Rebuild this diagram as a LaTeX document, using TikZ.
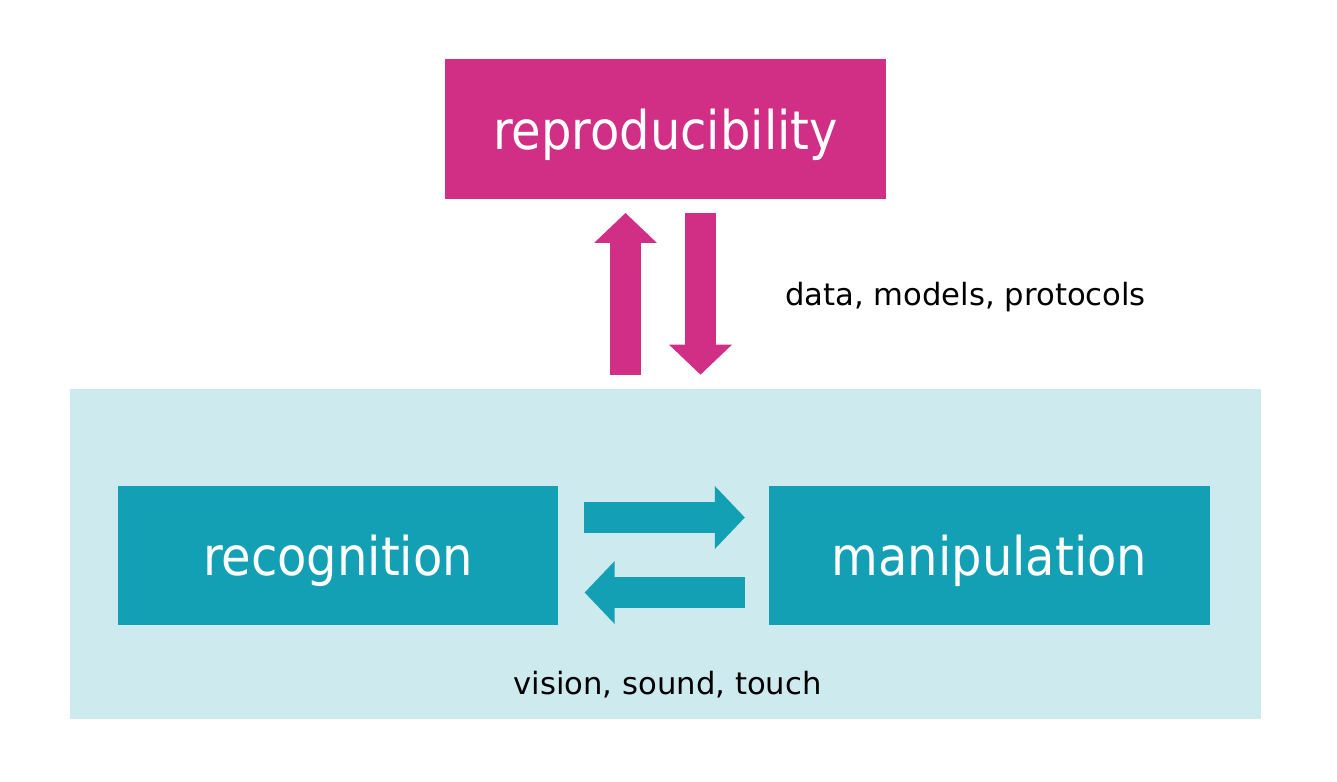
\documentclass[tikz,border=0pt]{standalone}
\usepackage{fontspec}
\setmainfont{DejaVu Sans}
\newfontfamily\boxfont{DejaVu Sans Condensed}
\usetikzlibrary{positioning, arrows.meta}

\definecolor{reprocolor}{HTML}{D02F85}
\definecolor{robotcolor}{HTML}{14A0B4}
\definecolor{areacolor}{HTML}{CDEAEF}

\begin{document}
\begin{tikzpicture}
    [
      x=0.75pt, y=-0.75pt,
      % Styles
      area/.style={fill=areacolor, minimum width=893.25pt, minimum height=247.5pt, inner sep=0pt},
      topic/.style={minimum width=330.5pt, minimum height=104.5pt, inner sep=0pt, text=white,
                    text depth=0pt, font=\boxfont\fontsize{40}{48}\selectfont},
      flow/.style={line width=23.25pt, -{Triangle[length=22.5pt, width=45.75pt]}},
      note/.style={inner sep=0pt, font=\fontsize{23}{28}\selectfont}
    ]

    \useasboundingbox (0,0) rectangle (1337,781);

    % light area round the robot loop
    \node [area] (lab) at (665.5,554) {};

    \node [topic, fill=reprocolor] (repro) at (665.5,129)   {reproducibility};
    \node [topic, fill=robotcolor] (recog) at (338,555.5)   {recognition};
    \node [topic, fill=robotcolor] (manip) at (989.5,555.5) {manipulation};

    % exchange with reproducibility
    \draw [flow, reprocolor] ([shift={(-40,-14)}]lab.north) -- ([shift={(-40,14)}]repro.south);
    \draw [flow, reprocolor] ([shift={(35,14)}]repro.south) -- ([shift={(35,-14)}]lab.north);
    \node [note, anchor=west] (share) at (785,297) {data, models, protocols};

    % loop between recognition and manipulation
    \draw [flow, robotcolor] ([shift={(25,-38)}]recog.east) -- ([shift={(-24,-38)}]manip.west);
    \draw [flow, robotcolor] ([shift={(-24,37)}]manip.west) -- ([shift={(26,37)}]recog.east);
    \node [note] (senses) at (667.5,685) {vision, sound, touch};
\end{tikzpicture}
\end{document}
